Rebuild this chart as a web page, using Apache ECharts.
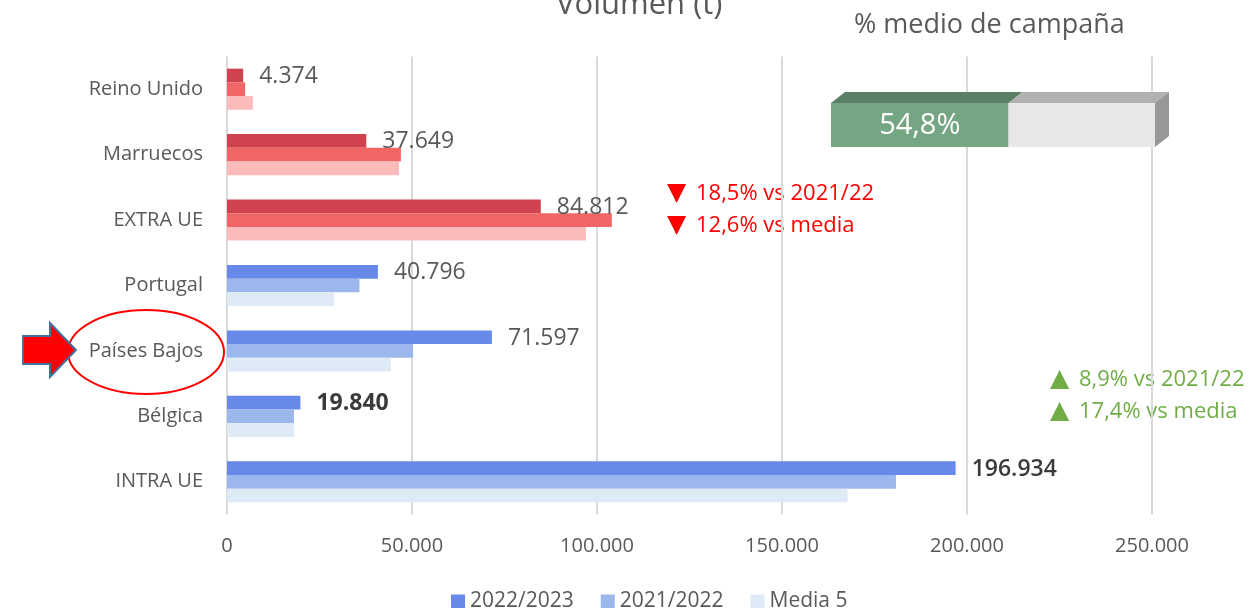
<!DOCTYPE html>
<html>
<head>
<meta charset="utf-8">
<script src="https://cdn.jsdelivr.net/npm/echarts@6/dist/echarts.min.js"></script>
<style>
  html, body { margin: 0; padding: 0; background: #fff; }
  #chart { width: 1258px; height: 608px; }
</style>
</head>
<body>
<div id="chart"></div>
<script>
// categorias de arriba a abajo
var categories = ['Reino Unido', 'Marruecos', 'EXTRA UE', 'Portugal', 'Países Bajos', 'Bélgica', 'INTRA UE'];
var grupo = ['EXTRA', 'EXTRA', 'EXTRA', 'INTRA', 'INTRA', 'INTRA', 'INTRA'];
var serie2223 = [4374, 37649, 84812, 40796, 71597, 19840, 196934];
var serie2122 = [4900, 47000, 104000, 35800, 50300, 18100, 180800];
var media5 = [7000, 46500, 97000, 28900, 44300, 18100, 167700];
var seriesNames = ['2022/2023', '2021/2022', 'Media 5'];
var xTicks = [0, 50000, 100000, 150000, 200000, 250000];

var gaugeValue = [54.8];
var gaugeMax = 100;

var notasExtra = ['18,5% vs 2021/22', '12,6% vs media'];
var notasIntra = ['8,9% vs 2021/22', '17,4% vs media'];

var FONT = 'Open Sans';
var GREY = '#595959';
var blue = ['#678AEA', '#9CB7EC', '#DEEAF6'];
var red = ['#D0434E', '#F26565', '#FBBBBB'];

function miles(v) {
    return String(Math.round(v)).replace(/\B(?=(\d{3})+(?!\d))/g, '.');
}

function buildData(values, idx) {
    return values.map(function (v, i) {
        var item = { value: v };
        if (grupo[i] === 'EXTRA') {
            item.itemStyle = { color: red[idx] };
        }
        if (idx === 0 && categories[i] === 'Bélgica') {
            item.label = { fontWeight: 'bold', color: '#3A3A3A' };
        }
        if (idx === 0 && categories[i] === 'INTRA UE') {
            item.label = { fontWeight: 600, color: '#3A3A3A' };
        }
        return item;
    });
}

var barSeries = [serie2223, serie2122, media5].map(function (vals, idx) {
    return {
        name: seriesNames[idx],
        type: 'bar',
        xAxisIndex: 0,
        yAxisIndex: 0,
        barWidth: 13.7,
        barGap: '0%',
        itemStyle: { color: blue[idx] },
        data: buildData(vals, idx),
        label: idx === 0 ? {
            show: true,
            position: 'right',
            distance: 16,
            offset: [0, 1],
            fontFamily: FONT,
            fontSize: 23,
            color: GREY,
            formatter: function (p) { return miles(p.value); }
        } : { show: false },
        silent: true
    };
});

// segmentos del indicador de campaña
var gaugeSegments = [
    [0, gaugeValue[0], 0],
    [gaugeValue[0], gaugeMax, 1]
];
var gaugeFront = ['#75A683', '#E7E7E7'];
var gaugeTop = ['#5B7F65', '#B1B1B1'];
var gaugeSide = '#979797';

function renderGauge(params, api) {
    var x0 = api.value(0), x1 = api.value(1), k = api.value(2);
    var tl = api.coord([x0, 1]);
    var br = api.coord([x1, 0]);
    var dx = 14, dy = 11;
    var children = [
        {
            type: 'polygon',
            shape: { points: [[tl[0], tl[1]], [tl[0] + dx, tl[1] - dy], [br[0] + dx, tl[1] - dy], [br[0], tl[1]]] },
            style: { fill: gaugeTop[k] }
        },
        {
            type: 'rect',
            shape: { x: tl[0], y: tl[1], width: br[0] - tl[0], height: br[1] - tl[1] },
            style: { fill: gaugeFront[k] }
        }
    ];
    if (x1 >= gaugeMax) {
        children.push({
            type: 'polygon',
            shape: { points: [[br[0], tl[1]], [br[0] + dx, tl[1] - dy], [br[0] + dx, br[1] - dy], [br[0], br[1]]] },
            style: { fill: gaugeSide }
        });
    }
    if (k === 0) {
        children.push({
            type: 'text',
            style: {
                text: String(gaugeValue[0]).replace('.', ',') + '%',
                x: (tl[0] + br[0]) / 2,
                y: (tl[1] + br[1]) / 2 + 1,
                align: 'center',
                verticalAlign: 'middle',
                fill: '#fff',
                font: '29px "' + FONT + '"'
            }
        });
    }
    return { type: 'group', children: children };
}

function notes(lines, x, y0, color, up) {
    return lines.map(function (t, i) {
        return {
            type: 'text',
            left: x,
            top: y0 + i * 32,
            style: {
                text: '{tri|' + (up ? '▲' : '▼') + '}{txt|' + t + '}',
                fill: color,
                rich: {
                    tri: { fontFamily: 'DejaVu Sans', fontSize: 25, width: 29, fill: color },
                    txt: { fontFamily: FONT, fontSize: 22, fill: color }
                }
            }
        };
    });
}

var chart = echarts.init(document.getElementById('chart'));

chart.setOption({
    backgroundColor: '#fff',
    animation: false,
    grid: [
        { left: 227, right: 106, top: 56.5, bottom: 93.5 },
        { left: 831, right: 103, top: 103, height: 44 }
    ],
    legend: {
        data: seriesNames,
        top: 586,
        left: 446,
        itemWidth: 14,
        itemHeight: 14,
        itemGap: 27,
        icon: 'rect',
        textStyle: { fontFamily: FONT, fontSize: 21, color: GREY }
    },
    xAxis: [
        {
            type: 'value',
            min: xTicks[0],
            max: xTicks[xTicks.length - 1],
            interval: xTicks[1] - xTicks[0],
            axisLine: { show: false },
            axisTick: { show: false },
            axisLabel: {
                fontFamily: FONT,
                fontSize: 20,
                color: GREY,
                margin: 22,
                formatter: function (v) { return miles(v); }
            },
            splitLine: { lineStyle: { color: '#D9D9D9', width: 2 } }
        },
        {
            type: 'value', gridIndex: 1, min: 0, max: gaugeMax, show: false
        }
    ],
    yAxis: [
        {
            type: 'category',
            data: categories,
            inverse: true,
            axisLine: { show: false },
            axisTick: { show: false },
            axisLabel: { fontFamily: FONT, fontSize: 20, color: GREY, margin: 24 }
        },
        {
            type: 'value', gridIndex: 1, min: 0, max: 1, show: false
        }
    ],
    series: barSeries.concat([{
        type: 'custom',
        xAxisIndex: 1,
        yAxisIndex: 1,
        renderItem: renderGauge,
        data: gaugeSegments,
        silent: true
    }]),
    graphic: [
        {
            type: 'text', left: 556, top: -10,
            style: { text: 'Volumen (t)', fill: GREY, font: '31px "' + FONT + '"' }
        },
        {
            type: 'text', left: 854, top: 12,
            style: { text: '% medio de campaña', fill: GREY, font: '27px "' + FONT + '"' }
        },
        {
            type: 'ellipse',
            shape: { cx: 146, cy: 352, rx: 78, ry: 42 },
            style: { fill: 'none', stroke: '#FF0000', lineWidth: 2 }
        },
        {
            type: 'polygon',
            shape: { points: [[23, 336], [50, 336], [50, 323], [76, 350], [50, 377], [50, 364], [23, 364]] },
            style: { fill: '#FF0000', stroke: '#41719C', lineWidth: 2 }
        }
    ].concat(notes(notasExtra, 667, 181, '#FF0000', false), notes(notasIntra, 1050, 367, '#70AD47', true))
});
</script>
</body>
</html>
